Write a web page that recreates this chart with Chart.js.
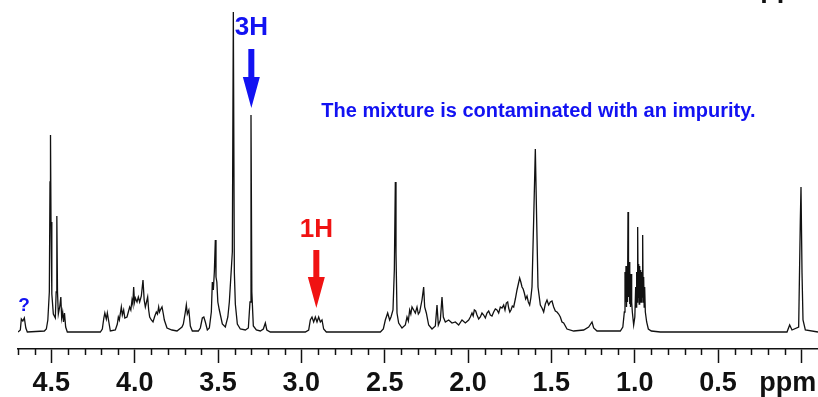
<!DOCTYPE html>
<html>
<head>
<meta charset="utf-8">
<script src="https://cdn.jsdelivr.net/npm/chart.js@4.4.0/dist/chart.umd.min.js"></script>
<style>
  html, body { margin: 0; padding: 0; background: #fff; }
  #wrap { width: 818px; height: 397px; position: relative; }
</style>
</head>
<body>
<div id="wrap"><canvas id="nmr"></canvas></div>
<script>
// 1H NMR trace: shift (ppm) and height above baseline.
const shiftPpm = [
  4.700, 4.686, 4.680, 4.671, 4.662, 4.653, 4.644, 4.542, 4.530, 4.521,
  4.512, 4.508, 4.505, 4.502, 4.497, 4.488, 4.476, 4.471, 4.467, 4.463,
  4.458, 4.449, 4.443, 4.438, 4.432, 4.427, 4.421, 4.414, 4.404, 4.206,
  4.194, 4.185, 4.179, 4.170, 4.164, 4.155, 4.146, 4.116, 4.104, 4.098,
  4.092, 4.080, 4.074, 4.066, 4.059, 4.046, 4.038, 4.030, 4.023, 4.016,
  4.011, 4.006, 4.001, 3.996, 3.986, 3.978, 3.970, 3.960, 3.950, 3.943,
  3.936, 3.929, 3.922, 3.916, 3.910, 3.900, 3.890, 3.879, 3.870, 3.863,
  3.856, 3.851, 3.846, 3.836, 3.828, 3.822, 3.806, 3.776, 3.746, 3.716,
  3.708, 3.696, 3.690, 3.684, 3.675, 3.666, 3.654, 3.618, 3.606, 3.594,
  3.585, 3.576, 3.564, 3.552, 3.540, 3.534, 3.528, 3.522, 3.516, 3.512,
  3.507, 3.501, 3.492, 3.474, 3.456, 3.441, 3.432, 3.423, 3.414, 3.408,
  3.402, 3.396, 3.384, 3.366, 3.336, 3.318, 3.308, 3.302, 3.297, 3.288,
  3.270, 3.246, 3.228, 3.216, 3.207, 3.186, 2.976, 2.956, 2.946, 2.936,
  2.926, 2.916, 2.906, 2.896, 2.886, 2.876, 2.866, 2.850, 2.526, 2.508,
  2.496, 2.490, 2.482, 2.470, 2.462, 2.450, 2.442, 2.436, 2.432, 2.426,
  2.416, 2.396, 2.376, 2.366, 2.358, 2.350, 2.343, 2.336, 2.326, 2.316,
  2.306, 2.298, 2.290, 2.276, 2.266, 2.260, 2.250, 2.236, 2.216, 2.196,
  2.186, 2.178, 2.166, 2.156, 2.148, 2.136, 2.116, 2.096, 2.076, 2.056,
  2.036, 2.016, 1.996, 1.986, 1.976, 1.969, 1.962, 1.954, 1.946, 1.936,
  1.926, 1.916, 1.906, 1.896, 1.886, 1.876, 1.866, 1.856, 1.846, 1.836,
  1.826, 1.816, 1.806, 1.796, 1.786, 1.778, 1.770, 1.762, 1.756, 1.749,
  1.742, 1.734, 1.726, 1.716, 1.706, 1.698, 1.690, 1.683, 1.676, 1.669,
  1.662, 1.654, 1.646, 1.638, 1.630, 1.623, 1.616, 1.606, 1.596, 1.588,
  1.580, 1.566, 1.556, 1.546, 1.536, 1.526, 1.516, 1.506, 1.496, 1.486,
  1.476, 1.466, 1.456, 1.446, 1.436, 1.426, 1.406, 1.366, 1.306, 1.276,
  1.256, 1.246, 1.226, 1.086, 1.071, 1.062, 1.058, 1.055, 1.052, 1.049,
  1.046, 1.043, 1.040, 1.037, 1.034, 1.031, 1.028, 1.025, 1.022, 1.018,
  1.014, 1.006, 0.999, 0.994, 0.991, 0.988, 0.985, 0.982, 0.979, 0.976,
  0.973, 0.970, 0.967, 0.964, 0.961, 0.958, 0.955, 0.952, 0.949, 0.946,
  0.943, 0.940, 0.936, 0.928, 0.918, 0.900, 0.846, 0.086, 0.070, 0.056,
  0.016, 0.006, 0.002, -0.004, -0.010, -0.024, -0.100
];
const intensity = [
  0, 2, 13, 11, 14, 4, 0, 1, 3, 12,
  40, 150, 197, 110, 38, 18, 14, 40, 116, 40,
  18, 26, 35, 14, 20, 10, 19, 5, 0, 0,
  3, 14, 19, 13, 19, 10, 1, 2, 8, 15,
  12, 25, 17, 22, 14, 15, 20, 25, 22, 32,
  28, 45, 30, 34, 30, 35, 30, 36, 52, 32,
  25, 30, 35, 22, 15, 12, 10, 16, 20, 18,
  25, 20, 22, 25, 18, 12, 4, 2, 1, 5,
  8, 20, 27, 18, 22, 6, 1, 1, 4, 14,
  15, 10, 2, 4, 20, 50, 42, 60, 92, 55,
  50, 30, 22, 8, 5, 15, 30, 55, 80, 320,
  60, 28, 8, 3, 2, 4, 30, 217, 40, 6,
  2, 1, 3, 9, 2, 0, 0, 2, 12, 15,
  10, 15, 10, 15, 10, 12, 3, 0, 0, 3,
  12, 15, 19, 12, 15, 22, 62, 150, 79, 19,
  9, 4, 7, 15, 11, 22, 18, 25, 22, 19,
  25, 18, 20, 32, 45, 25, 19, 7, 3, 6,
  27, 7, 12, 35, 15, 10, 12, 9, 10, 7,
  12, 9, 12, 15, 19, 16, 22, 21, 17, 13,
  15, 19, 17, 14, 19, 21, 17, 16, 20, 23,
  22, 19, 25, 24, 27, 22, 29, 30, 24, 20,
  22, 26, 25, 33, 42, 48, 54, 50, 45, 43,
  39, 33, 36, 30, 27, 34, 45, 112, 183, 112,
  45, 27, 24, 20, 28, 32, 27, 30, 31, 25,
  21, 20, 18, 15, 10, 9, 3, 1, 2, 5,
  10, 4, 1, 1, 5, 20, 60, 30, 66, 25,
  64, 30, 120, 35, 70, 28, 62, 25, 58, 30,
  20, 7, 15, 45, 25, 60, 30, 105, 35, 68,
  28, 66, 30, 62, 30, 60, 35, 97, 30, 55,
  25, 45, 20, 10, 3, 1, 0, 0, 7, 2,
  5, 112, 145, 60, 12, 2, 0
];

// Axis: a labelled tick every 0.5 ppm; the 0.0 position carries the unit.
const majorTicks = [0, 0.5, 1.0, 1.5, 2.0, 2.5, 3.0, 3.5, 4.0, 4.5];
const majorLabels = ["ppm\u2003", "0.5", "1.0", "1.5", "2.0", "2.5", "3.0", "3.5", "4.0", "4.5"];

// Annotations placed in data units (ppm, height).
const noteLabels = ["3H", "1H", "?"];
const notePpm = [3.30, 2.91, 4.663];
const noteHeight = [297, 95, 21];
const noteSizes = [26, 26, 19];
const noteColors = ["#1212f2", "#f01212", "#1212f2"];

const arrowPpm = [3.30, 2.91];
const arrowTail = [283, 82];
const arrowTip = [224, 24];
const arrowColors = ["#1212f2", "#f01212"];

const message = "The mixture is contaminated with an impurity.";
const messagePpm = 2.88;
const messageHeight = 215;

const FONT = "'Liberation Sans', Arial, Helvetica, sans-serif";
const INK = "#111";

// Short unlabelled ticks every 0.1 ppm, drawn on the x scale.
const minorTicksPlugin = {
  id: "minorTicks",
  afterDraw(chart) {
    const xs = chart.scales.x;
    const ctx = chart.ctx;
    const y0 = chart.chartArea.bottom;
    ctx.save();
    ctx.strokeStyle = INK;
    ctx.lineWidth = 1.5;
    for (let k = 0; k <= 47; k++) {
      if (k % 5 === 0) continue;
      const px = Math.round(xs.getPixelForValue(k / 10)) + 0.5;
      ctx.beginPath();
      ctx.moveTo(px, y0);
      ctx.lineTo(px, y0 + 6);
      ctx.stroke();
    }
    // the cut-off unit label peeking in at the very top
    ctx.fillStyle = INK;
    ctx.font = "bold 27px " + FONT;
    ctx.textAlign = "left";
    ctx.textBaseline = "alphabetic";
    ctx.fillText("ppm", xs.getPixelForValue(0.246), chart.scales.y.getPixelForValue(335));
    ctx.restore();
  },
};

const annotationsPlugin = {
  id: "annotations",
  afterDatasetsDraw(chart) {
    const xs = chart.scales.x, ys = chart.scales.y;
    const ctx = chart.ctx;
    ctx.save();

    noteLabels.forEach((txt, i) => {
      ctx.fillStyle = noteColors[i];
      ctx.font = `bold ${noteSizes[i]}px ${FONT}`;
      ctx.textAlign = "center";
      ctx.textBaseline = "alphabetic";
      ctx.fillText(txt, xs.getPixelForValue(notePpm[i]), ys.getPixelForValue(noteHeight[i]));
    });

    arrowPpm.forEach((p, i) => {
      const cx = xs.getPixelForValue(p);
      const yTail = ys.getPixelForValue(arrowTail[i]);
      const yTip = ys.getPixelForValue(arrowTip[i]);
      const headLen = 31, headHalf = 8.5, shaftHalf = 3;
      ctx.fillStyle = arrowColors[i];
      ctx.beginPath();
      ctx.moveTo(cx - shaftHalf, yTail);
      ctx.lineTo(cx + shaftHalf, yTail);
      ctx.lineTo(cx + shaftHalf, yTip - headLen);
      ctx.lineTo(cx + headHalf, yTip - headLen);
      ctx.lineTo(cx, yTip);
      ctx.lineTo(cx - headHalf, yTip - headLen);
      ctx.lineTo(cx - shaftHalf, yTip - headLen);
      ctx.closePath();
      ctx.fill();
    });

    ctx.fillStyle = "#1212f2";
    ctx.font = "bold 20px " + FONT;
    ctx.textAlign = "left";
    ctx.fillText(message, xs.getPixelForValue(messagePpm), ys.getPixelForValue(messageHeight));
    ctx.restore();
  },
};

new Chart(document.getElementById("nmr"), {
  type: "line",
  data: {
    datasets: [{
      data: shiftPpm.map((p, i) => ({ x: p, y: intensity[i] })),
      borderColor: INK,
      borderWidth: 1.3,
      pointRadius: 0,
      tension: 0,
      fill: false,
    }],
  },
  options: {
    responsive: true,
    maintainAspectRatio: false,
    animation: false,
    layout: { padding: { left: 18, right: 0, top: 0, bottom: 0 } },
    plugins: { legend: { display: false }, tooltip: { enabled: false } },
    scales: {
      x: {
        type: "linear",
        reverse: true,
        min: -0.1,
        max: 4.7,
        afterBuildTicks: s => { s.ticks = majorTicks.map(v => ({ value: v })); },
        afterFit: s => { s.height = 48; },
        grid: { drawOnChartArea: false, drawTicks: true, tickLength: 14, tickColor: INK, tickWidth: 1.5 },
        border: { display: true, color: INK, width: 1.5 },
        ticks: {
          autoSkip: false,
          maxRotation: 0,
          padding: 4,
          color: INK,
          font: { family: FONT, size: 27, weight: "bold" },
          callback: v => {
            const i = majorTicks.findIndex(t => Math.abs(t - v) < 1e-6);
            return i < 0 ? "" : majorLabels[i];
          },
        },
      },
      y: { display: false, min: -17, max: 332 },
    },
  },
  plugins: [minorTicksPlugin, annotationsPlugin],
});
</script>
</body>
</html>
